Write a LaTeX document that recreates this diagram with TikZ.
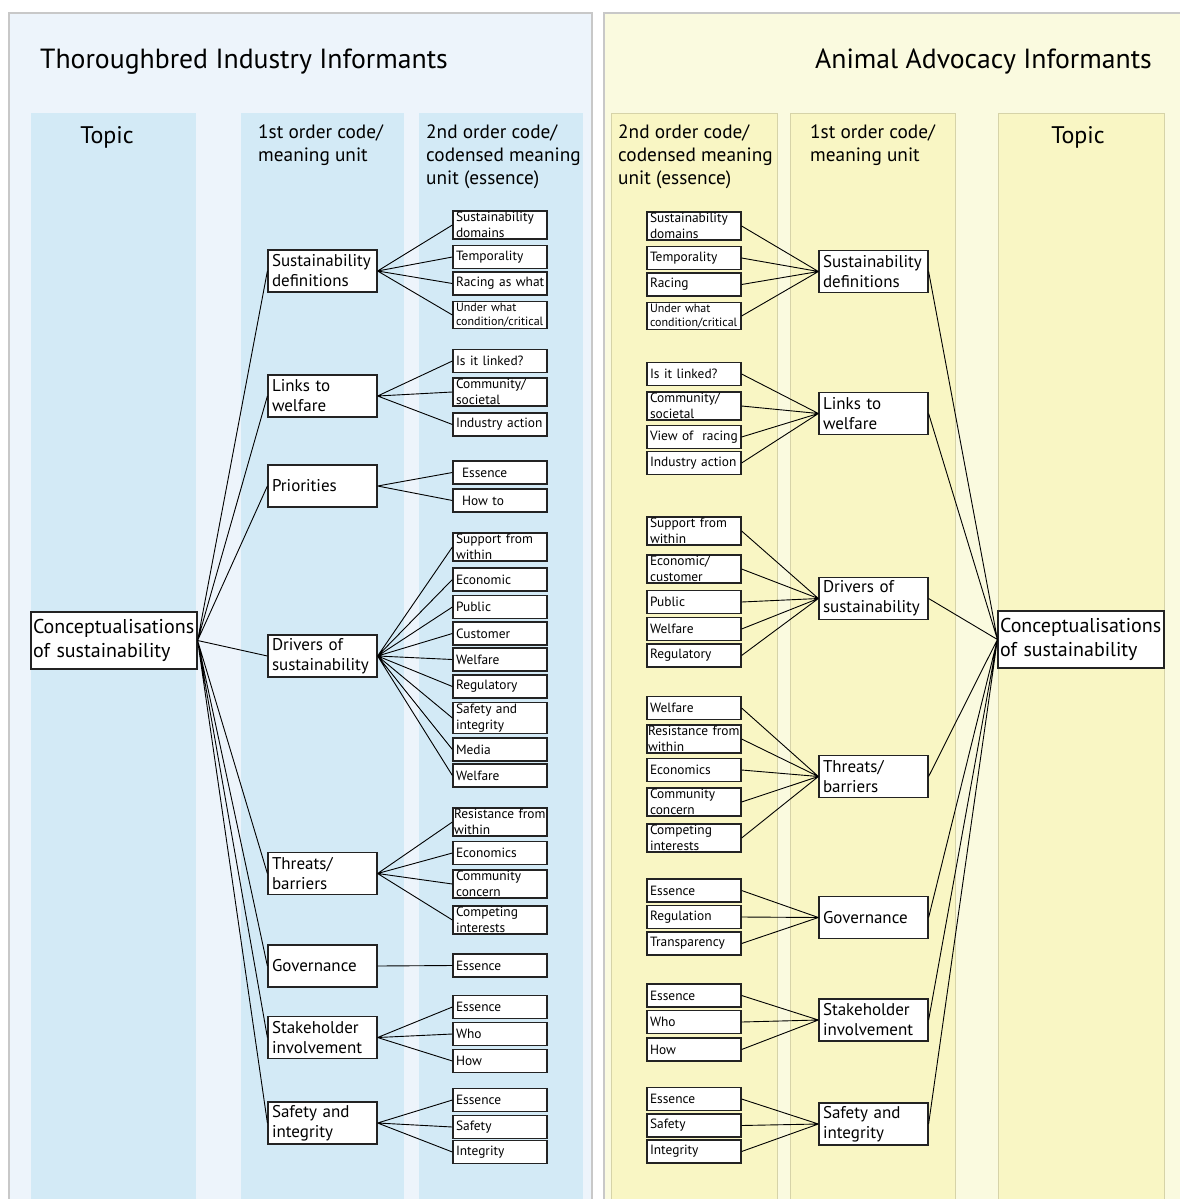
\documentclass[tikz,border=0pt]{standalone}
\usepackage{fontspec}
\setmainfont{PT Sans}
\usetikzlibrary{positioning}

\definecolor{panelazul}{RGB}{237,244,251}
\definecolor{colazul}{RGB}{211,234,246}
\definecolor{panelamarillo}{RGB}{250,250,223}
\definecolor{colamarillo}{RGB}{249,246,196}
\definecolor{bordeamarillo}{RGB}{214,211,168}
\definecolor{bordepanel}{RGB}{200,200,200}
\definecolor{bordecaja}{RGB}{35,35,35}

\tikzset{
  caja/.style={draw=bordecaja, fill=white, line width=1.2pt, align=left},
  segundo/.style={caja, text width=88pt, inner xsep=3pt, inner ysep=1.2pt,
    minimum height=23pt, font=\fontsize{13.4}{15.8}\selectfont},
  chico/.style={font=\fontsize{12}{14.5}\selectfont},
  ancho/.style={text width=92pt, inner xsep=1pt},
  primero/.style={caja, text width=101pt, inner xsep=4pt, inner ysep=1pt,
    minimum height=42pt, font=\fontsize{17}{20}\selectfont},
  tema/.style={caja, text width=162pt, inner xsep=2pt, inner ysep=1pt,
    minimum height=57pt, font=\fontsize{20}{24}\selectfont},
  cabecera/.style={anchor=north west, inner sep=0pt, align=left,
    font=\fontsize{19.3}{23}\selectfont},
  titulo/.style={inner sep=0pt, font=\fontsize{27.7}{30}\selectfont},
  linea/.style={line width=0.9pt, black},
}

\begin{document}
\begin{tikzpicture}[x=1pt, y=-1pt]
        \useasboundingbox (0,0) rectangle (1179,1199);

        % Paneles
        \filldraw[fill=panelazul, draw=bordepanel, line width=1.2pt] (9,13) rectangle (592,1210);
        \filldraw[fill=panelamarillo, draw=bordepanel, line width=1.2pt] (604,13) rectangle (1190,1210);

        % Columnas
        \fill[colazul] (31,113) rectangle (196,1210);
        \fill[colazul] (241,113) rectangle (404,1210);
        \fill[colazul] (419,113) rectangle (583,1210);
        \filldraw[fill=colamarillo, draw=bordeamarillo, line width=1pt] (611,113) rectangle (777,1210);
        \filldraw[fill=colamarillo, draw=bordeamarillo, line width=1pt] (790,113) rectangle (955,1210);
        \filldraw[fill=colamarillo, draw=bordeamarillo, line width=1pt] (998,113) rectangle (1164,1210);

        % Titulos y cabeceras
        \node[titulo, anchor=base west] (tituloT) at (40,68) {Thoroughbred Industry Informants};
        \node[titulo, anchor=base east] (tituloA) at (1152,68) {Animal Advocacy Informants};
        \node[anchor=base, inner sep=0pt, font=\fontsize{24}{28}\selectfont] (ttopic) at (107,143) {Topic};
        \node[cabecera] (tcab1) at (258,125) {1st order code/\\meaning unit};
        \node[cabecera] (tcab2) at (426,125) {2nd order code/\\codensed meaning\\unit (essence)};
        \node[cabecera] (acab2) at (618,125) {2nd order code/\\codensed meaning\\unit (essence)};
        \node[cabecera] (acab1) at (810,125) {1st order code/\\meaning unit};
        \node[anchor=base, inner sep=0pt, font=\fontsize{24}{28}\selectfont] (atopic) at (1078,143) {Topic};

        % Thoroughbred: tema y codigos de primer orden
        \node[tema] (ttema) at (114,640.5) {Conceptualisations\\of sustainability};
        \node[primero] (tdef) at (322.5,271) {Sustainability\\definitions};
        \node[primero] (tlink) at (322.5,396) {Links to\\welfare};
        \node[primero] (tprio) at (322.5,486) {Priorities};
        \node[primero] (tdriv) at (322.5,656) {Drivers of\\sustainability};
        \node[primero] (tthr) at (322.5,873.5) {Threats/\\barriers};
        \node[primero] (tgov) at (322.5,966) {Governance};
        \node[primero] (tstk) at (322.5,1037.5) {Stakeholder\\involvement};
        \node[primero] (tsaf) at (322.5,1123) {Safety and\\integrity};

        % Thoroughbred: codigos de segundo orden
        \node[segundo] (tdef1) at (500,225) {Sustainability\\domains};
        \node[segundo] (tdef2) at (500,257) {Temporality};
        \node[segundo, ancho] (tdef3) at (500,283.5) {\hspace{2pt}\mbox{Racing as what}};
        \node[segundo, chico] (tdef4) at (500,315) {Under what\\condition/critical};
        \node[segundo] (tlink1) at (500,361) {Is it linked?};
        \node[segundo] (tlink2) at (500,392) {Community/\\societal};
        \node[segundo] (tlink3) at (500,424.5) {Industry action};
        \node[segundo] (tprio1) at (500,472.5) {\hspace{6pt}Essence};
        \node[segundo] (tprio2) at (500,500.5) {\hspace{6pt}How to};
        \node[segundo] (tdriv1) at (500,547) {Support from\\within};
        \node[segundo] (tdriv2) at (500,579.5) {Economic};
        \node[segundo] (tdriv3) at (500,607) {Public};
        \node[segundo] (tdriv4) at (500,633.5) {Customer};
        \node[segundo] (tdriv5) at (500,659.5) {Welfare};
        \node[segundo] (tdriv6) at (500,686.5) {Regulatory};
        \node[segundo] (tdriv7) at (500,718) {Safety and\\integrity};
        \node[segundo] (tdriv8) at (500,749.5) {Media};
        \node[segundo] (tdriv9) at (500,775.5) {Welfare};
        \node[segundo, ancho] (tthr1) at (500,822) {\mbox{Resistance from}\\within};
        \node[segundo] (tthr2) at (500,853) {Economics};
        \node[segundo] (tthr3) at (500,884) {Community\\concern};
        \node[segundo] (tthr4) at (500,920) {Competing\\interests};
        \node[segundo] (tgov1) at (500,965.5) {Essence};
        \node[segundo] (tstk1) at (500,1007) {Essence};
        \node[segundo] (tstk2) at (500,1034) {Who};
        \node[segundo] (tstk3) at (500,1061) {How};
        \node[segundo] (tsaf1) at (500,1100) {Essence};
        \node[segundo] (tsaf2) at (500,1127) {Safety};
        \node[segundo] (tsaf3) at (500,1152) {Integrity};

        % Animal Advocacy: tema y codigos de primer orden
        \node[tema] (atema) at (1081,639.5) {Conceptualisations\\of sustainability};
        \node[primero] (adef) at (873.5,271.5) {Sustainability\\definitions};
        \node[primero] (alink) at (873.5,413.5) {Links to\\welfare};
        \node[primero] (adriv) at (873.5,598.5) {Drivers of\\sustainability};
        \node[primero] (athr) at (873.5,776.5) {Threats/\\barriers};
        \node[primero] (agov) at (873.5,917.5) {Governance};
        \node[primero] (astk) at (873.5,1020) {Stakeholder\\involvement};
        \node[primero] (asaf) at (873.5,1124) {Safety and\\integrity};

        % Animal Advocacy: codigos de segundo orden
        \node[segundo] (adef1) at (694,226) {Sustainability\\domains};
        \node[segundo] (adef2) at (694,258) {Temporality};
        \node[segundo] (adef3) at (694,284.5) {Racing};
        \node[segundo, chico] (adef4) at (694,316) {Under what\\condition/critical};
        \node[segundo] (alink1) at (694,374) {Is it linked?};
        \node[segundo] (alink2) at (694,406) {Community/\\societal};
        \node[segundo] (alink3) at (694,437) {View of~ racing};
        \node[segundo] (alink4) at (694,463) {Industry action};
        \node[segundo] (adriv1) at (694,531) {Support from\\within};
        \node[segundo] (adriv2) at (694,569) {Economic/\\customer};
        \node[segundo] (adriv3) at (694,602) {Public};
        \node[segundo] (adriv4) at (694,629) {Welfare};
        \node[segundo] (adriv5) at (694,655.5) {Regulatory};
        \node[segundo] (athr1) at (694,708) {Welfare};
        \node[segundo, ancho] (athr2) at (694,739) {\mbox{Resistance from}\\within};
        \node[segundo] (athr3) at (694,770) {Economics};
        \node[segundo] (athr4) at (694,802) {Community\\concern};
        \node[segundo] (athr5) at (694,838) {Competing\\interests};
        \node[segundo] (agov1) at (694,890.5) {Essence};
        \node[segundo] (agov2) at (694,917) {Regulation};
        \node[segundo] (agov3) at (694,943.5) {Transparency};
        \node[segundo] (astk1) at (694,995.5) {Essence};
        \node[segundo] (astk2) at (694,1022) {Who};
        \node[segundo] (astk3) at (694,1049.5) {How};
        \node[segundo] (asaf1) at (694,1099) {Essence};
        \node[segundo] (asaf2) at (694,1125.5) {Safety};
        \node[segundo] (asaf3) at (694,1151.5) {Integrity};

        % Lineas del tema (Thoroughbred)
        \draw[linea] (ttema.east) -- (tdef.west)  (ttema.east) -- (tlink.west)
                     (ttema.east) -- (tprio.west) (ttema.east) -- (tdriv.west)
                     (ttema.east) -- (tthr.west)  (ttema.east) -- (tgov.west)
                     (ttema.east) -- (tstk.west)  (ttema.east) -- (tsaf.west);

        % Lineas de primer a segundo orden (Thoroughbred)
        \draw[linea] (tdef.east) -- (tdef1.west) (tdef.east) -- (tdef2.west)
                     (tdef.east) -- (tdef3.west) (tdef.east) -- (tdef4.west);
        \draw[linea] (tlink.east) -- (tlink1.west) (tlink.east) -- (tlink2.west)
                     (tlink.east) -- (tlink3.west);
        \draw[linea] (tprio.east) -- (tprio1.west) (tprio.east) -- (tprio2.west);
        \draw[linea] (tdriv.east) -- (tdriv1.west) (tdriv.east) -- (tdriv2.west)
                     (tdriv.east) -- (tdriv3.west) (tdriv.east) -- (tdriv4.west)
                     (tdriv.east) -- (tdriv5.west) (tdriv.east) -- (tdriv6.west)
                     (tdriv.east) -- (tdriv7.west) (tdriv.east) -- (tdriv8.west)
                     (tdriv.east) -- (tdriv9.west);
        \draw[linea] (tthr.east) -- (tthr1.west) (tthr.east) -- (tthr2.west)
                     (tthr.east) -- (tthr3.west) (tthr.east) -- (tthr4.west);
        \draw[linea] (tgov.east) -- (tgov1.west);
        \draw[linea] (tstk.east) -- (tstk1.west) (tstk.east) -- (tstk2.west)
                     (tstk.east) -- (tstk3.west);
        \draw[linea] (tsaf.east) -- (tsaf1.west) (tsaf.east) -- (tsaf2.west)
                     (tsaf.east) -- (tsaf3.west);

        % Lineas del tema (Animal Advocacy)
        \draw[linea] (adef.east) -- (atema.west)  (alink.east) -- (atema.west)
                     (adriv.east) -- (atema.west) (athr.east) -- (atema.west)
                     (agov.east) -- (atema.west)  (astk.east) -- (atema.west)
                     (asaf.east) -- (atema.west);

        % Lineas de segundo a primer orden (Animal Advocacy)
        \draw[linea] (adef1.east) -- (adef.west) (adef2.east) -- (adef.west)
                     (adef3.east) -- (adef.west) (adef4.east) -- (adef.west);
        \draw[linea] (alink1.east) -- (alink.west) (alink2.east) -- (alink.west)
                     (alink3.east) -- (alink.west) (alink4.east) -- (alink.west);
        \draw[linea] (adriv1.east) -- (adriv.west) (adriv2.east) -- (adriv.west)
                     (adriv3.east) -- (adriv.west) (adriv4.east) -- (adriv.west)
                     (adriv5.east) -- (adriv.west);
        \draw[linea] (athr1.east) -- (athr.west) (athr2.east) -- (athr.west)
                     (athr3.east) -- (athr.west) (athr4.east) -- (athr.west)
                     (athr5.east) -- (athr.west);
        \draw[linea] (agov1.east) -- (agov.west) (agov2.east) -- (agov.west)
                     (agov3.east) -- (agov.west);
        \draw[linea] (astk1.east) -- (astk.west) (astk2.east) -- (astk.west)
                     (astk3.east) -- (astk.west);
        \draw[linea] (asaf1.east) -- (asaf.west) (asaf2.east) -- (asaf.west)
                     (asaf3.east) -- (asaf.west);

    \end{tikzpicture}
\end{document}
